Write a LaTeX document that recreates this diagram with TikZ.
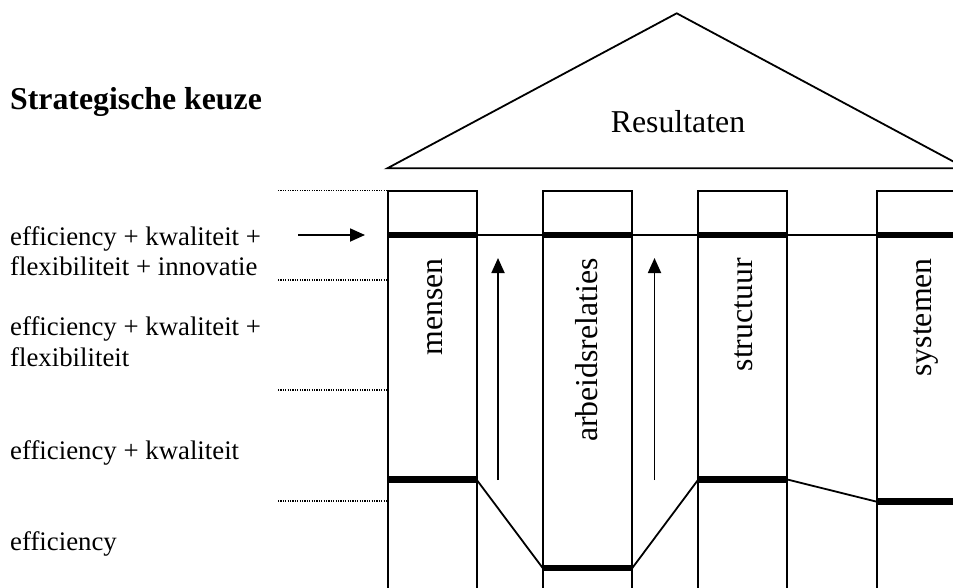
\documentclass[tikz,border=0pt]{standalone}
\usepackage{fontspec}
\setmainfont{Liberation Serif}
\usetikzlibrary{arrows.meta}
\begin{document}
\begin{tikzpicture}[x=1pt,y=-1pt,
  pillar/.style={draw=black, line width=2pt},
  level/.style={line width=6.5pt},
  link/.style={line width=1.8pt},
  guide/.style={line width=1.3pt, dash pattern=on 1.2pt off 1.2pt},
  rise/.style={line width=1.8pt, -{Triangle[length=15pt,width=13pt]}},
  small/.style={font=\fontsize{26.8}{30}\selectfont, anchor=base west, inner sep=0pt},
  big/.style={font=\fontsize{31.8}{36}\selectfont, inner sep=0pt},
  collabel/.style={big, rotate=90, anchor=base east}]
\useasboundingbox (0,0) rectangle (953,587);
\clip (0,0) rectangle (953,587);

% roof
\draw[line width=1.8pt, line join=miter] (387.3,168.3) coordinate (roofL)
  -- (676.7,13.3) coordinate (apex) -- (966,168.3) coordinate (roofR) -- cycle;
\node[big, anchor=base] (res) at (678,132) {Resultaten};

% heading and strategy levels
\node[small, font=\fontsize{31.8}{36}\selectfont\bfseries] (head) at (10,109) {Strategische keuze};
\node[small] (l4a) at (10,245.7) {efficiency + kwaliteit +};
\node[small] (l4b) at (10,275.5) {flexibiliteit + innovatie};
\node[small] (l3a) at (10,335) {efficiency + kwaliteit +};
\node[small] (l3b) at (10,366.5) {flexibiliteit};
\node[small] (l2) at (10,459) {efficiency + kwaliteit};
\node[small] (l1) at (10,550.5) {efficiency};

% level separators
\foreach \y/\n in {190.7/a,280/b,390/c,501/d}{
  \coordinate (g\n0) at (278,\y);
  \coordinate (g\n1) at (387.3,\y);
  \draw[guide] (g\n0) -- (g\n1);
}

% pillars
\foreach \n/\xl/\xr in {m/387.5/476.5, a/542.7/632.3, s/698.3/787.3, y/876.7/965.7}{
  \draw[pillar] (\xl,600) -- (\xl,190.7) -- (\xr,190.7) -- (\xr,600);
  \coordinate (\n TL) at (\xl,235);
  \coordinate (\n TR) at (\xr,235);
}

% column labels
\node[collabel] (lm) at (442,258) {mensen};
\node[collabel] (la) at (597.5,258) {arbeidsrelaties};
\node[collabel] (ls) at (752.8,258) {structuur};
\node[collabel] (ly) at (931.2,258) {systemen};

% current level bars
\draw[link] (mTR) -- (yTL);
\foreach \n in {m,a,s,y}{ \draw[level] (\n TL) -- (\n TR); }

% bottom level bars
\coordinate (mBL) at (387.5,479.5); \coordinate (mBR) at (476.5,479.5);
\coordinate (aBL) at (542.7,568);   \coordinate (aBR) at (632.3,568);
\coordinate (sBL) at (698.3,479.5); \coordinate (sBR) at (787.3,479.5);
\coordinate (yBL) at (876.7,501.7); \coordinate (yBR) at (965.7,501.7);
\draw[link, line join=round] (mBR) -- (aBL);
\draw[link, line join=round] (aBR) -- (sBL);
\draw[link, line join=round] (sBR) -- (yBL);
\foreach \n in {m,a,s,y}{ \draw[level] (\n BL) -- (\n BR); }

% arrows
\coordinate (p0) at (298,235); \coordinate (p1) at (365,235);
\draw[rise] (p0) -- (p1);
\coordinate (u0) at (498,480); \coordinate (u1) at (498,258);
\draw[rise] (u0) -- (u1);
\coordinate (v0) at (654.5,480); \coordinate (v1) at (654.5,258);
\draw[rise] (v0) -- (v1);
\end{tikzpicture}
\end{document}
